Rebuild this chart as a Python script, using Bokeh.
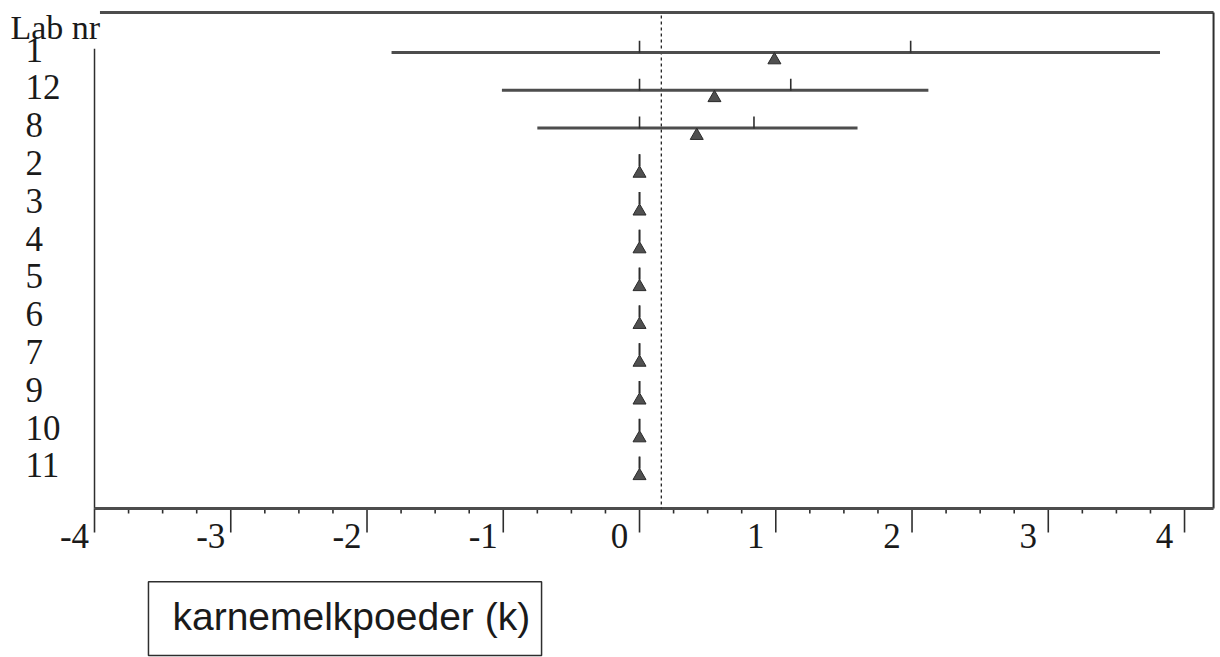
from bokeh.plotting import figure
from bokeh.models import Range1d, ColumnDataSource
from bokeh.core.properties import value
from bokeh.transform import dodge
from bokeh.embed import file_html
from bokeh.resources import INLINE

# ---- data ----
labs = ["1", "12", "8", "2", "3", "4", "5", "6", "7", "9", "10", "11"]
low = [-1.82, -1.01, -0.75, 0, 0, 0, 0, 0, 0, 0, 0, 0]
high = [3.82, 2.12, 1.60, 0, 0, 0, 0, 0, 0, 0, 0, 0]
mean = [0.99, 0.55, 0.42, 0, 0, 0, 0, 0, 0, 0, 0, 0]
upper_mark = [1.99, 1.11, 0.84, 0, 0, 0, 0, 0, 0, 0, 0, 0]
zero_mark = [0, 0, 0, 0, 0, 0, 0, 0, 0, 0, 0, 0]
consensus = 0.16
x_ticks = [-4, -3, -2, -1, 0, 1, 2, 3, 4]
x_tick_labels = ["-4", "-3", "-2", "-1", "0", "1", "2", "3", "4"]
y_title = "Lab nr"
box_text = "karnemelkpoeder  (k)"

rows = list(range(len(labs)))

# ---- layout (the whole canvas is the data frame) ----
X_MIN, X_MAX = -4.0, 4.213            # axis extent
ROW_TOP, ROW_BOTTOM = -1.058, 12.063  # frame top border / x-axis line
PX_Y = 37.8                           # pixels per row

LABEL_FONT = "Liberation Serif"
INK = "#2e2e2e"
GREY = "#4d4d4d"

p = figure(width=1220, height=657, output_backend="svg", toolbar_location=None,
           x_range=Range1d(-4.690, 4.264), y_range=Range1d(16.005, -1.376),
           min_border=0, x_axis_location=None, y_axis_location=None)
p.grid.visible = False
p.outline_line_color = None
p.background_fill_color = "white"
p.border_fill_color = "white"

src = ColumnDataSource(dict(row=rows, lab=labs, low=low, high=high, mean=mean,
                            upper=upper_mark, zero=zero_mark))

# --- frame: top border, right border, left axis line ---
p.segment(x0=[X_MIN + 0.04, X_MAX], y0=[ROW_TOP, ROW_TOP],
          x1=[X_MAX, X_MAX], y1=[ROW_TOP, ROW_BOTTOM],
          line_width=[3, 2], line_color=[GREY, INK])
p.segment(x0=[X_MIN], y0=[-0.1], x1=[X_MIN], y1=[ROW_BOTTOM],
          line_width=1.5, line_color=INK)

# --- x axis: major ticks hang below the axis line, minor ticks short ---
major_len = 24 / PX_Y
minor_len = 5 / PX_Y
minor = [t + q for t in x_ticks[:-1] for q in (0.25, 0.5, 0.75)]
p.segment(x0=x_ticks, y0=[ROW_BOTTOM] * len(x_ticks), x1=x_ticks,
          y1=[ROW_BOTTOM + major_len] * len(x_ticks), line_width=1.6,
          line_color=INK)
p.segment(x0=minor, y0=[ROW_BOTTOM] * len(minor), x1=minor,
          y1=[ROW_BOTTOM + minor_len] * len(minor), line_width=1.6,
          line_color=INK)
p.segment(x0=[X_MIN], y0=[ROW_BOTTOM], x1=[X_MAX], y1=[ROW_BOTTOM],
          line_width=3, line_color=GREY)

# tick labels, printed to the left of their tick
p.text(x=x_ticks, y=[ROW_BOTTOM + 0.72] * len(x_ticks), text=x_tick_labels,
       x_offset=-20, text_align="center", text_baseline="middle",
       text_font=value(LABEL_FONT), text_font_size="35px", text_color="#1a1a1a")

# --- lab labels ---
p.text(x=X_MIN, y="row", text="lab", source=src, x_offset=-69, y_offset=-3,
       text_align="left", text_baseline="middle",
       text_font=value(LABEL_FONT), text_font_size="35px", text_color="#1a1a1a")
p.text(x=[X_MIN], y=[-0.66], text=[y_title], x_offset=-84,
       text_align="left", text_baseline="middle",
       text_font=value(LABEL_FONT), text_font_size="34px", text_color="#1a1a1a")

# --- consensus dashed line ---
p.segment(x0=[consensus], y0=[ROW_TOP + 0.08], x1=[consensus], y1=[ROW_BOTTOM],
          line_dash="3 3", line_width=1.3, line_color="#222222")

# --- data ---
p.segment(x0="low", y0="row", x1="high", y1="row", source=src,
          line_width=3, line_color=GREY)
p.rect(x="zero", y=dodge("row", -0.15, range=p.y_range), width=1.6, height=12,
       width_units="screen", height_units="screen", source=src,
       fill_color=INK, line_color=None)
p.rect(x="upper", y=dodge("row", -0.15, range=p.y_range), width=1.6, height=12,
       width_units="screen", height_units="screen", source=src,
       fill_color=INK, line_color=None)
p.scatter(x="mean", y=dodge("row", 0.2, range=p.y_range), marker="triangle",
          size=13, source=src, fill_color="#505050", line_color="#2a2a2a",
          line_width=1)

# --- boxed caption ---
p.quad(left=[-3.604], right=[-0.719], top=[14.0], bottom=[15.95],
       fill_color="white", line_color=INK, line_width=1.5)
p.text(x=[-3.604], y=[14.92], text=[box_text], x_offset=24,
       text_align="left", text_baseline="middle",
       text_font=value("Liberation Sans"), text_font_size="39px",
       text_color="#1a1a1a")

open("out.html", "w").write(file_html(p, INLINE))
